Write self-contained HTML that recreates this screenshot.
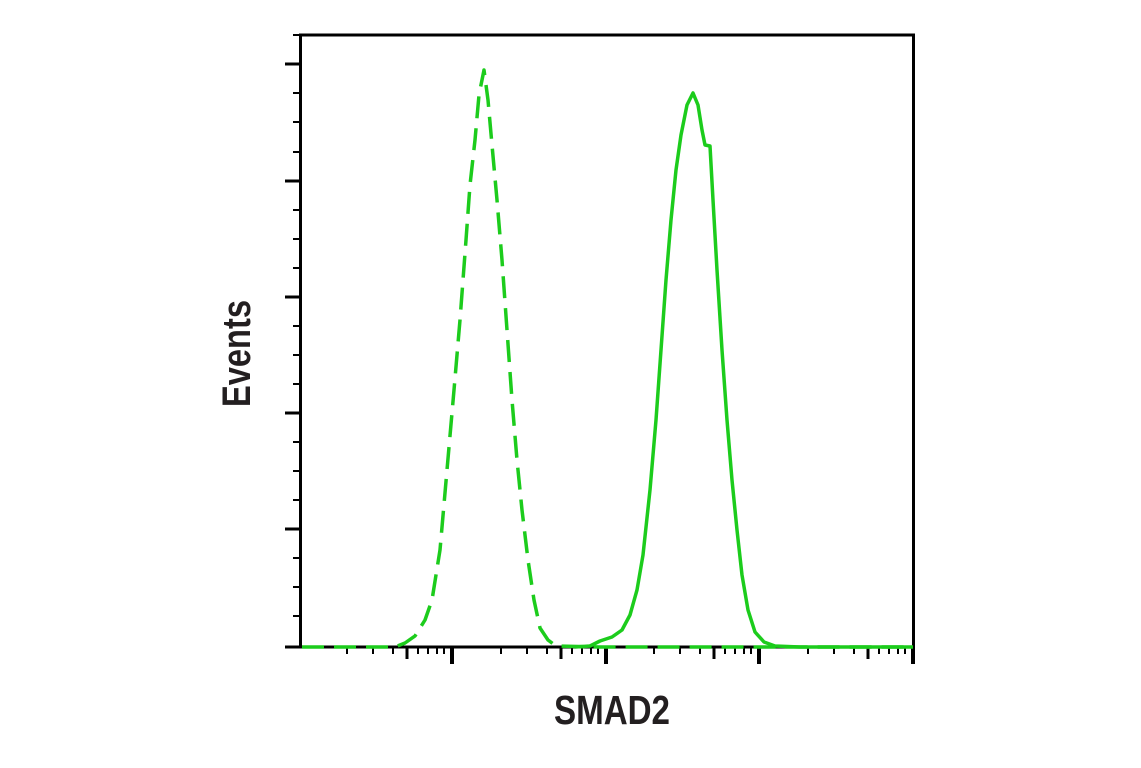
<!DOCTYPE html>
<html><head><meta charset="utf-8"><style>html,body{margin:0;padding:0;background:#fff}svg{display:block}</style></head>
<body>
<svg width="1141" height="768" viewBox="0 0 1141 768" xmlns="http://www.w3.org/2000/svg">
<g stroke="#000" fill="none">
<rect x="300.5" y="35" width="613" height="612" stroke-width="3"/>
<g stroke-width="3">
<line x1="285" y1="647" x2="300" y2="647"/><line x1="285" y1="529" x2="300" y2="529"/><line x1="285" y1="413" x2="300" y2="413"/><line x1="285" y1="297" x2="300" y2="297"/><line x1="285" y1="181" x2="300" y2="181"/><line x1="285" y1="64" x2="300" y2="64"/>
</g>
<g stroke-width="2">
<line x1="293" y1="35" x2="300" y2="35"/>
<line x1="293" y1="93" x2="300" y2="93"/><line x1="293" y1="122" x2="300" y2="122"/><line x1="293" y1="152" x2="300" y2="152"/>
<line x1="293" y1="210" x2="300" y2="210"/><line x1="293" y1="239" x2="300" y2="239"/><line x1="293" y1="268" x2="300" y2="268"/>
<line x1="293" y1="326" x2="300" y2="326"/><line x1="293" y1="355" x2="300" y2="355"/><line x1="293" y1="384" x2="300" y2="384"/>
<line x1="293" y1="442" x2="300" y2="442"/><line x1="293" y1="471" x2="300" y2="471"/><line x1="293" y1="500" x2="300" y2="500"/>
<line x1="293" y1="558" x2="300" y2="558"/><line x1="293" y1="587" x2="300" y2="587"/><line x1="293" y1="616" x2="300" y2="616"/>
</g>
<g id="dec" stroke-width="2">
<line x1="347" y1="648" x2="347" y2="654"/><line x1="373" y1="648" x2="373" y2="654"/><line x1="393" y1="648" x2="393" y2="654"/>
<line x1="407" y1="648" x2="407" y2="659" stroke-width="3"/><line x1="418" y1="648" x2="418" y2="654"/><line x1="428" y1="648" x2="428" y2="654"/><line x1="437" y1="648" x2="437" y2="654"/><line x1="444" y1="648" x2="444" y2="654"/>
<line x1="452" y1="648" x2="452" y2="664" stroke-width="4"/>
</g>
<use href="#dec" x="154"/><use href="#dec" x="307"/><use href="#dec" x="461"/>
</g>
<g fill="none" stroke="#1ccc1c" stroke-width="3.5" stroke-linejoin="round">
<polyline stroke-dasharray="22,10" points="302,647 395,647 405,643 415,636 425,620 432,600 440,550 447,470 454,390 460,320 466,240 470,185 475,140 479,95 484,70 488,100 492,145 497,200 502,260 507,330 512,400 517,460 522,510 528,560 534,600 540,628 548,640 556,646 600,647 913,647"/>
<polyline points="575,647 590,646 600,641 612,637 622,630 630,615 637,590 643,555 650,490 656,420 661,350 666,280 671,220 676,170 681,135 687,105 693,93 698,105 702,130 705,145 710,146 713,200 717,270 722,350 727,420 732,480 737,530 742,575 748,610 755,632 764,642 775,646 800,647 913,647"/>
</g>
<g fill="#231f20" font-family="Liberation Sans, sans-serif" font-weight="bold" font-size="41">
<text x="554" y="724" textLength="116" lengthAdjust="spacingAndGlyphs">SMAD2</text>
<text transform="translate(250,407) rotate(-90)" x="0" y="0" textLength="107" lengthAdjust="spacingAndGlyphs" font-size="40">Events</text>
</g>
</svg>
</body></html>
